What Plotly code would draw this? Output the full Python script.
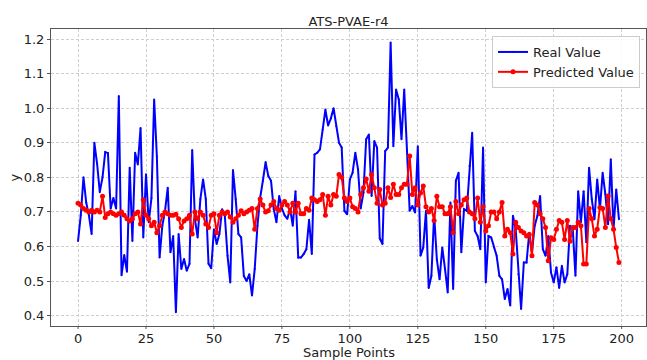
import plotly.graph_objects as go

sample_points = list(range(200))

real_value = [
    0.616, 0.69, 0.80, 0.727, 0.69, 0.636, 0.90, 0.84, 0.757, 0.80,
    0.873, 0.87, 0.71, 0.74, 0.71, 1.035, 0.517, 0.575, 0.527, 0.828,
    0.616, 0.871, 0.837, 0.943, 0.626, 0.809, 0.67, 0.74, 1.025, 0.86,
    0.568, 0.66, 0.703, 0.77, 0.583, 0.63, 0.41, 0.636, 0.535, 0.564,
    0.53, 0.55, 0.879, 0.679, 0.626, 0.737, 0.794, 0.737, 0.55, 0.537,
    0.65, 0.607, 0.636, 0.708, 0.689, 0.573, 0.496, 0.821, 0.737, 0.636,
    0.626, 0.515, 0.50, 0.52, 0.458, 0.535, 0.66, 0.741, 0.79, 0.844,
    0.804, 0.79, 0.708, 0.67, 0.746, 0.71, 0.69, 0.68, 0.71, 0.66,
    0.76, 0.568, 0.568, 0.578, 0.592, 0.677, 0.578, 0.866, 0.871, 0.881,
    0.938, 0.996, 0.95, 0.97, 1.0, 0.948, 0.9, 0.886, 0.703, 0.693,
    0.794, 0.813, 0.871, 0.823, 0.71, 0.756, 0.91, 0.924, 0.746, 0.905,
    0.886, 0.623, 0.607, 0.876, 0.886, 1.19, 0.89, 1.054, 1.025, 0.91,
    1.054, 0.88, 0.703, 0.717, 0.698, 0.89, 0.573, 0.597, 0.703, 0.48,
    0.515, 0.693, 0.563, 0.505, 0.597, 0.535, 0.467, 0.727, 0.477, 0.79,
    0.813, 0.583, 0.708, 0.703, 0.833, 0.929, 0.645, 0.63, 0.592, 0.886,
    0.496, 0.63, 0.626, 0.597, 0.573, 0.515, 0.505, 0.448, 0.477, 0.429,
    0.689, 0.65, 0.52, 0.419, 0.554, 0.554, 0.64, 0.583, 0.66, 0.689,
    0.746, 0.592, 0.573, 0.63, 0.525, 0.496, 0.54, 0.48, 0.544, 0.496,
    0.52, 0.66, 0.65, 0.515, 0.76, 0.67, 0.76, 0.612, 0.828, 0.737,
    0.679, 0.794, 0.708, 0.813, 0.751, 0.664, 0.852, 0.65, 0.765, 0.679,
]

predicted_value = [
    0.725, 0.72, 0.71, 0.705, 0.70, 0.705, 0.70, 0.705, 0.70, 0.745,
    0.684, 0.695, 0.70, 0.695, 0.69, 0.695, 0.70, 0.69, 0.68, 0.674,
    0.68, 0.695, 0.70, 0.665, 0.735, 0.69, 0.68, 0.66, 0.67, 0.64,
    0.66, 0.69, 0.70, 0.695, 0.69, 0.69, 0.693, 0.68, 0.655, 0.674,
    0.68, 0.69, 0.636, 0.70, 0.68, 0.70, 0.69, 0.665, 0.655, 0.69,
    0.695, 0.64, 0.69, 0.70, 0.695, 0.70, 0.685, 0.67, 0.68, 0.69,
    0.703, 0.695, 0.70, 0.705, 0.71, 0.65, 0.71, 0.737, 0.72, 0.70,
    0.703, 0.72, 0.73, 0.71, 0.705, 0.72, 0.73, 0.72, 0.70, 0.725,
    0.70, 0.725, 0.695, 0.695, 0.71, 0.705, 0.74, 0.735, 0.73, 0.735,
    0.75, 0.69, 0.745, 0.72, 0.75, 0.745, 0.808, 0.80, 0.74, 0.73,
    0.74, 0.715, 0.71, 0.70, 0.75, 0.77, 0.795, 0.76, 0.808, 0.77,
    0.725, 0.765, 0.72, 0.725, 0.77, 0.742, 0.78, 0.75, 0.75, 0.77,
    0.78, 0.78, 0.862, 0.75, 0.77, 0.72, 0.755, 0.775, 0.715, 0.70,
    0.71, 0.675, 0.745, 0.715, 0.715, 0.695, 0.695, 0.715, 0.64, 0.73,
    0.695, 0.72, 0.735, 0.74, 0.70, 0.695, 0.68, 0.74, 0.67, 0.715,
    0.645, 0.66, 0.70, 0.70, 0.68, 0.70, 0.727, 0.63, 0.65, 0.64,
    0.578, 0.67, 0.655, 0.645, 0.64, 0.63, 0.635, 0.573, 0.727, 0.72,
    0.695, 0.68, 0.655, 0.559, 0.625, 0.62, 0.65, 0.675, 0.67, 0.62,
    0.675, 0.615, 0.655, 0.655, 0.67, 0.66, 0.549, 0.549, 0.71, 0.68,
    0.63, 0.65, 0.713, 0.71, 0.655, 0.746, 0.68, 0.65, 0.597, 0.554,
]

x_ticks = [0, 25, 50, 75, 100, 125, 150, 175, 200]
y_ticks = [0.4, 0.5, 0.6, 0.7, 0.8, 0.9, 1.0, 1.1, 1.2]

FONT = "DejaVu Sans"
W, H = 647, 360
ML, MR, MT, MB = 51, 1, 29, 34
PW, PH = W - ML - MR, H - MT - MB

fig = go.Figure()
fig.add_trace(go.Scatter(
    x=sample_points, y=real_value, name="Real Value",
    mode="lines+markers",
    line=dict(color="#0000ff", width=2),
    marker=dict(color="#0000ff", size=2),
))
fig.add_trace(go.Scatter(
    x=sample_points, y=predicted_value, name="Predicted Value",
    mode="lines+markers",
    line=dict(color="#ff0000", width=2),
    marker=dict(color="#ff0000", size=5),
))

axis_common = dict(
    showline=True, linecolor="#555", linewidth=1, mirror=True,
    tickcolor="#555",
    showgrid=True, gridcolor="#cfcfcf", griddash="3px,2px", gridwidth=1,
    zeroline=False, automargin=False,
    tickfont=dict(family=FONT, size=13, color="#222"),
)

# outward x tick marks drawn at the tick values (labels sit closer, as in the reference)
x_tick_marks = [
    dict(type="line", xref="x", yref="paper", x0=t, x1=t,
         y0=0, y1=-3 / PH, line=dict(color="#555", width=1), layer="above")
    for t in x_ticks
]

fig.update_layout(
    width=W, height=H,
    margin=dict(l=ML, r=MR, t=MT, b=MB),
    paper_bgcolor="white", plot_bgcolor="white",
    font=dict(family=FONT, color="#222"),
    title=dict(text="ATS-PVAE-r4", x=0.5, xanchor="center",
               xref="paper", y=1 - 21 / H, yanchor="middle",
               font=dict(family=FONT, size=13, color="#222")),
    xaxis=dict(range=[-9.95, 208.95], tickvals=x_ticks, ticks="",
               **axis_common),
    yaxis=dict(range=[0.370, 1.229], tickvals=y_ticks, tickformat=".1f",
               ticks="outside", ticklen=3, **axis_common),
    legend=dict(x=(640 - ML) / PW, y=1 - (36 - MT) / PH,
                xanchor="right", yanchor="top",
                bgcolor="rgba(255,255,255,0.85)", bordercolor="#cccccc",
                borderwidth=1, font=dict(family=FONT, size=13, color="#222"),
                tracegroupgap=0, itemwidth=30),
    showlegend=True,
    shapes=x_tick_marks,
    annotations=[
        dict(text="Sample Points", xref="paper", yref="paper",
             x=0.5, y=-(352.3 - (H - MB)) / PH,
             xanchor="center", yanchor="middle", showarrow=False,
             font=dict(family=FONT, size=13, color="#222")),
        dict(text="y", xref="paper", yref="paper",
             x=-(ML - 14) / PW, y=0.5, textangle=-90,
             xanchor="center", yanchor="middle", showarrow=False,
             font=dict(family=FONT, size=13, color="#222")),
    ],
)

fig.write_html("out.html",
               config={"displayModeBar": False},
               post_script="document.body.style.margin='0px';"
                           "document.body.style.overflow='hidden';")
